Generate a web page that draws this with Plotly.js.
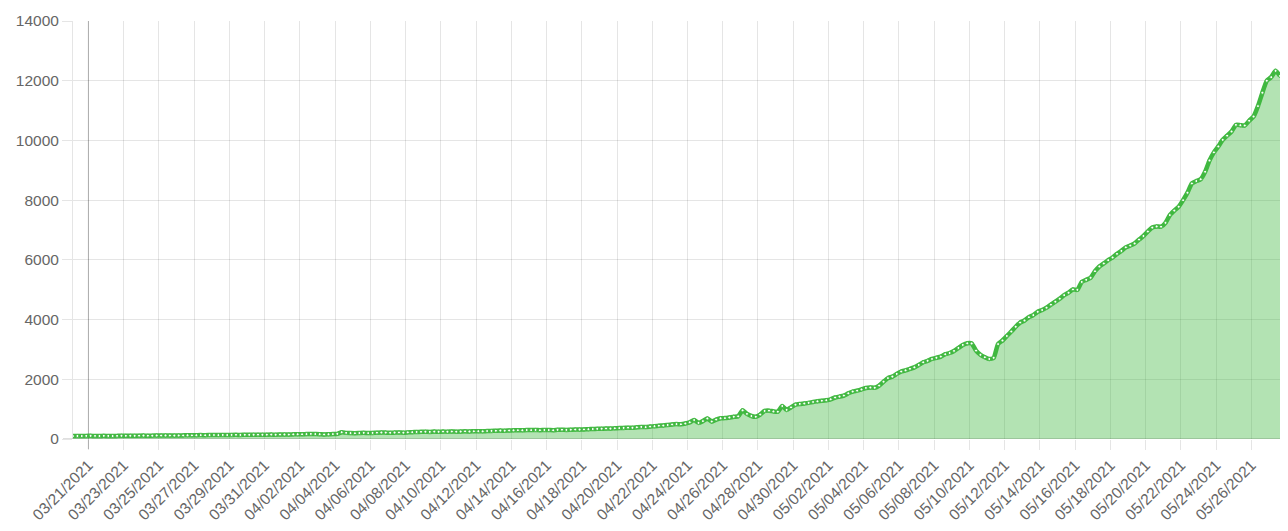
<!DOCTYPE html>
<html>
<head>
<meta charset="utf-8">
<script src="https://cdn.plot.ly/plotly-3.0.1.min.js"></script>
<style>
  html, body { margin: 0; padding: 0; background: #ffffff; }
  #chart { width: 1288px; height: 531px; }
</style>
</head>
<body>
<div id="chart"></div>
<script>
// Series sampled every 6 hours, starting 2021-03-20 03:00
const startTime = '2021-03-20T03:00:00';
const stepHours = 6;

// values grouped per day (03h, 09h, 15h, 21h)
const values = [
  98, 102, 100, 104,        // 03/20
  106, 103, 101, 105,       // 03/21
  103, 100, 104, 108,       // 03/22
  106, 110, 107, 112,       // 03/23
  115, 111, 113, 118,       // 03/24
  116, 120, 117, 114,       // 03/25
  118, 121, 125, 122,       // 03/26
  126, 130, 127, 131,       // 03/27
  134, 130, 136, 133,       // 03/28
  137, 140, 136, 141,       // 03/29
  139, 143, 146, 142,       // 03/30
  145, 148, 144, 149,       // 03/31
  152, 148, 155, 158,       // 04/01
  160, 164, 170, 166,       // 04/02
  162, 152, 158, 165,       // 04/03
  172, 228, 205, 198,       // 04/04
  194, 200, 206, 198,       // 04/05
  204, 212, 218, 214,       // 04/06
  208, 215, 220, 212,       // 04/07
  222, 230, 236, 240,       // 04/08
  245, 238, 248, 242,       // 04/09
  250, 244, 252, 246,       // 04/10
  250, 258, 252, 260,       // 04/11
  262, 256, 268, 272,       // 04/12
  275, 282, 278, 286,       // 04/13
  290, 296, 292, 300,       // 04/14
  298, 304, 296, 302,       // 04/15
  300, 294, 306, 310,       // 04/16
  304, 312, 318, 314,       // 04/17
  322, 328, 334, 340,       // 04/18
  345, 352, 348, 360,       // 04/19
  366, 372, 380, 376,       // 04/20
  392, 405, 398, 415,       // 04/21
  430, 445, 452, 470,       // 04/22
  488, 500, 495, 520,       // 04/23
  560, 636, 540, 600,       // 04/24
  690, 585, 650, 695,       // 04/25
  700, 720, 745, 760,       // 04/26
  960, 840, 770, 745,       // 04/27
  820, 940, 950, 925,       // 04/28
  915, 1105, 975, 1060,     // 04/29
  1150, 1175, 1190, 1210,   // 04/30
  1240, 1262, 1280, 1300,   // 05/01
  1330, 1390, 1420, 1455,   // 05/02
  1530, 1590, 1620, 1660,   // 05/03
  1710, 1725, 1718, 1790,   // 05/04
  1920, 2040, 2090, 2180,   // 05/05
  2260, 2300, 2350, 2400,   // 05/06
  2480, 2570, 2620, 2680,   // 05/07
  2720, 2760, 2840, 2880,   // 05/08
  2950, 3050, 3150, 3205,   // 05/09
  3200, 2960, 2820, 2740,   // 05/10
  2680, 2720, 3180, 3300,   // 05/11
  3450, 3600, 3760, 3900,   // 05/12
  3970, 4080, 4150, 4260,   // 05/13
  4320, 4400, 4500, 4600,   // 05/14
  4700, 4820, 4900, 5010,   // 05/15
  4995, 5260, 5330, 5400,   // 05/16
  5620, 5780, 5880, 5990,   // 05/17
  6080, 6200, 6300, 6420,   // 05/18
  6480, 6550, 6680, 6800,   // 05/19
  6950, 7080, 7120, 7110,   // 05/20
  7240, 7500, 7650, 7780,   // 05/21
  8000, 8250, 8560, 8640,   // 05/22
  8700, 8950, 9330, 9600,   // 05/23
  9800, 10020, 10160, 10300,// 05/24
  10520, 10510, 10500, 10660,// 05/25
  10800, 11150, 11600, 12000,// 05/26
  12120, 12330, 12160       // 05/27
];

const yTicks = [0, 2000, 4000, 6000, 8000, 10000, 12000, 14000];
const xRange = ['2021-03-20 03:00', '2021-05-27 15:00'];
const firstTick = '2021-03-21';

function pad(n) { return (n < 10 ? '0' : '') + n; }
const t0 = new Date(startTime + 'Z').getTime();
const times = values.map((v, i) => {
  const d = new Date(t0 + i * stepHours * 3600000);
  return d.getUTCFullYear() + '-' + pad(d.getUTCMonth() + 1) + '-' + pad(d.getUTCDate()) +
         ' ' + pad(d.getUTCHours()) + ':00';
});

const green = 'rgb(64,184,64)';
const gridC = 'rgba(0,0,0,0.1)';
const zeroC = 'rgba(0,0,0,0.25)';

const trace = {
  type: 'scatter',
  mode: 'lines+markers',
  x: times,
  y: values,
  fill: 'tozeroy',
  fillcolor: 'rgba(64,184,64,0.4)',
  line: { color: green, width: 4.5, shape: 'spline', smoothing: 0.5 },
  marker: { size: 3, color: '#ffffff', line: { color: green, width: 1 } },
  hoverinfo: 'x+y'
};

const plotW = 1288 - 73 - 8;
const plotH = 531 - 21 - 92;

const layout = {
  width: 1288,
  height: 531,
  margin: { l: 73, r: 8, t: 21, b: 92 },
  paper_bgcolor: '#ffffff',
  plot_bgcolor: '#ffffff',
  showlegend: false,
  font: { family: 'Liberation Sans, Arial, sans-serif', color: '#666666', size: 15.5 },
  xaxis: {
    type: 'date',
    range: xRange,
    tick0: firstTick,
    dtick: 2 * 86400000,
    tickformat: '%m/%d/%Y',
    tickangle: -45,
    ticks: 'outside',
    ticklen: 10,
    tickcolor: gridC,
    tickfont: { size: 15.5, color: '#666666' },
    showgrid: true,
    gridcolor: gridC,
    gridwidth: 1,
    zeroline: false,
    showline: false
  },
  yaxis: {
    range: [0, 14000],
    tickvals: yTicks,
    ticktext: yTicks.map(String),
    ticks: 'outside',
    ticklen: 10,
    tickcolor: gridC,
    tickfont: { size: 15.5, color: '#666666' },
    showgrid: true,
    gridcolor: gridC,
    gridwidth: 1,
    zeroline: false,
    showline: true,
    linecolor: gridC,
    linewidth: 1
  },
  shapes: [
    { type: 'line', xref: 'x', yref: 'paper', x0: firstTick, x1: firstTick,
      y0: -10 / plotH, y1: 1, line: { color: zeroC, width: 1 }, layer: 'below' },
    { type: 'line', xref: 'paper', yref: 'y', x0: -10 / plotW, x1: 1,
      y0: 0, y1: 0, line: { color: zeroC, width: 1 }, layer: 'above' }
  ]
};

Plotly.newPlot('chart', [trace], layout, { displayModeBar: false, staticPlot: true });
</script>
</body>
</html>
